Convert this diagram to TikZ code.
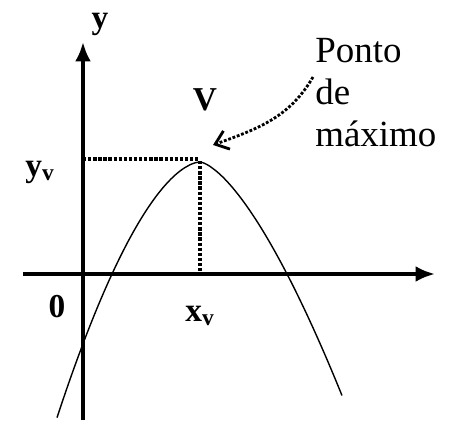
\documentclass[tikz,border=0pt]{standalone}
\usepackage{fontspec}
\setmainfont{Liberation Serif}
\usetikzlibrary{arrows.meta,positioning}

\begin{document}
\begin{tikzpicture}[font=\bfseries\fontsize{19}{22}\selectfont]
\tikzset{axis/.style={line width=2.1pt,-{Latex[length=11pt,width=9pt]}},
  guide/.style={line width=1.9pt,densely dotted},
  pointer/.style={line width=1.6pt,densely dotted,-{Straight Barb[length=7pt,width=11pt]}},
  lbl/.style={inner sep=0pt}}
\useasboundingbox (-1.66,-2.92) rectangle (7.32,5.48);
% axes
\coordinate (xa) at (-1.2,0);
\coordinate (xb) at (7.04,0);
\coordinate (ya) at (0,-2.92);
\coordinate (yb) at (0,4.64);
\draw[axis] (xa) -- (xb);
\draw[axis] (ya) -- (yb);
% vertex and its projections
\coordinate (v) at (2.34,2.26);
\coordinate (vx) at (2.34,0);
\coordinate (vy) at (0,2.3);
\draw[guide] (vy) -- (vy -| v);
\draw[guide] (v) -- (vx);
% parabola
\draw[line width=0.8pt,samples=60,smooth]
  plot[domain=-0.52:2.33] (\x,{2.24-2.24*((2.3401-\x)/1.76)^1.7})
  -- plot[domain=2.35:5.18] (\x,{2.24-2.24*((\x-2.3399)/1.74)^1.5});
% labels
\node[lbl] (ylab) at (0.34,5.0) {y};
\node[lbl] (zero) at (-0.52,-0.66) {0};
\node[lbl] (xv) at (2.34,-0.84) {x\textsubscript{v}};
\node[lbl] (yv) at (-0.86,2.04) {y\textsubscript{v}};
\node[lbl] (vlab) at (2.44,3.48) {V};
\node[lbl,anchor=north west,align=left,font=\fontsize{21}{24}\selectfont] (note) at (4.64,4.72) {Ponto\\de\\máximo};
\coordinate (pstart) at (4.6,3.94);
\coordinate (ptip) at (2.6,2.58);
\draw[pointer] (pstart) to[out=-120,in=20] (ptip);
\end{tikzpicture}
\end{document}
